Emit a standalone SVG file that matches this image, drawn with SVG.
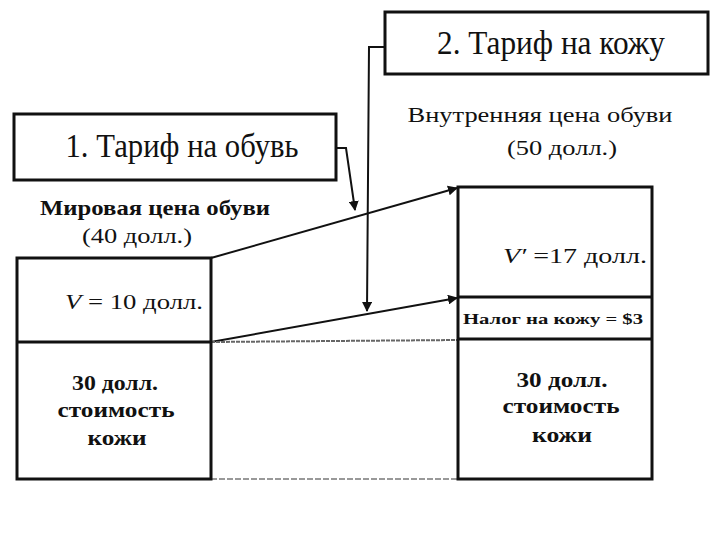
<svg xmlns="http://www.w3.org/2000/svg" width="720" height="540" viewBox="0 0 720 540">
<defs>
<style>
text{font-family:"Liberation Serif","DejaVu Serif",serif;fill:#111}
.box{fill:none;stroke:#111;stroke-width:3}
.ln{fill:none;stroke:#111;stroke-width:2}
.title{font-size:33px}
.lbl{font-size:21px}
.b{font-weight:bold}
.c{text-anchor:middle}
</style>
<marker id="ah" viewBox="0 0 10 10" refX="9" refY="5" markerWidth="5" markerHeight="5" orient="auto" markerUnits="strokeWidth">
<path d="M0,0 L10,5 L0,10 z" fill="#111"/>
</marker>
</defs>
<rect width="720" height="540" fill="#fff"/>

<g id="connectors">
<polyline class="ln" points="336,148 346,148 355,210" marker-end="url(#ah)"/>
<polyline class="ln" points="385,47 369,47 367,311" marker-end="url(#ah)"/>
<line class="ln" x1="211" y1="258" x2="457" y2="188" marker-end="url(#ah)"/>
<line class="ln" x1="211" y1="342" x2="457" y2="298" marker-end="url(#ah)"/>
<line x1="211" y1="342" x2="458" y2="340" stroke="#666" stroke-width="2" stroke-dasharray="4,1"/>
<line x1="211" y1="479" x2="458" y2="479" stroke="#999" stroke-width="2" stroke-dasharray="6,2"/>
</g>

<g id="tariff-shoes">
<rect class="box" x="14" y="114" width="322" height="66"/>
<text class="title c" x="182" y="157" textLength="233" lengthAdjust="spacingAndGlyphs">1. Тариф на обувь</text>
</g>

<g id="tariff-leather">
<rect class="box" x="385" y="12" width="323" height="62"/>
<text class="title c" x="551" y="54" textLength="228" lengthAdjust="spacingAndGlyphs">2. Тариф на кожу</text>
</g>

<g id="world-price">
<text class="lbl b c" x="155" y="215" textLength="230" lengthAdjust="spacingAndGlyphs">Мировая цена обуви</text>
<text class="lbl c" x="137" y="243" textLength="110" lengthAdjust="spacingAndGlyphs">(40 долл.)</text>
</g>

<g id="domestic-price">
<text class="lbl c" x="540" y="122" textLength="265" lengthAdjust="spacingAndGlyphs">Внутренняя цена обуви</text>
<text class="lbl c" x="562" y="155" textLength="110" lengthAdjust="spacingAndGlyphs">(50 долл.)</text>
</g>

<g id="left-stack">
<rect class="box" x="17" y="258" width="194" height="221"/>
<line class="box" x1="17" y1="342" x2="211" y2="342"/>
<text class="lbl" x="65" y="309" textLength="138" lengthAdjust="spacingAndGlyphs"><tspan font-style="italic">V</tspan> = 10 долл.</text>
<text class="lbl b c" x="115" y="390" textLength="86" lengthAdjust="spacingAndGlyphs">30 долл.</text>
<text class="lbl b c" x="116" y="417" textLength="117" lengthAdjust="spacingAndGlyphs">стоимость</text>
<text class="lbl b c" x="117" y="445" textLength="59" lengthAdjust="spacingAndGlyphs">кожи</text>
</g>

<g id="right-stack">
<rect class="box" x="458" y="187" width="194" height="292"/>
<line class="box" x1="458" y1="297" x2="652" y2="297"/>
<line class="box" x1="458" y1="339" x2="652" y2="339"/>
<text class="lbl" x="503" y="263" textLength="144" lengthAdjust="spacingAndGlyphs"><tspan font-style="italic">V′</tspan> =17 долл.</text>
<text class="b" x="463" y="324" font-size="15" textLength="180" lengthAdjust="spacingAndGlyphs">Налог на кожу = $3</text>
<text class="lbl b c" x="562" y="387" textLength="91" lengthAdjust="spacingAndGlyphs">30 долл.</text>
<text class="lbl b c" x="561" y="413" textLength="117" lengthAdjust="spacingAndGlyphs">стоимость</text>
<text class="lbl b c" x="562" y="442" textLength="60" lengthAdjust="spacingAndGlyphs">кожи</text>
</g>
</svg>
